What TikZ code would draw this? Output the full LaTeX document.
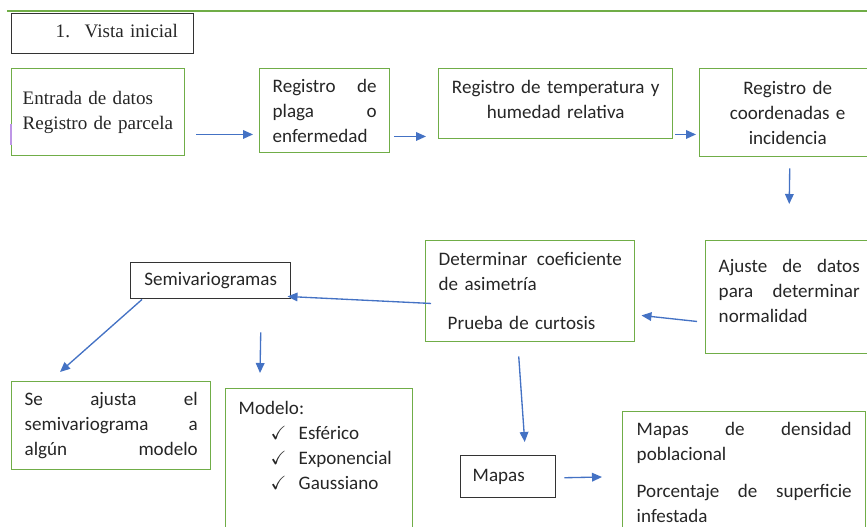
\documentclass[tikz,border=0pt]{standalone}
\usepackage{fontspec}
\usepackage{amssymb}
\setmainfont{Carlito}
\newfontfamily\romana{Liberation Serif}
\usetikzlibrary{arrows.meta, positioning, calc}

\definecolor{verde}{HTML}{70AD47}
\definecolor{azul}{HTML}{4472C4}
\definecolor{texto}{HTML}{262626}
\definecolor{violeta}{RGB}{190,150,230}

\tikzset{
    caja/.style={draw=verde, line width=1.1pt, anchor=north west, text=texto,
        inner ysep=0pt, font=\fontsize{14.3pt}{18.6pt}\selectfont},
    cajanegra/.style={caja, draw=black!80},
    flecha/.style={-{Triangle[length=7.5pt,width=6.5pt]}, azul, line width=1pt},
}

\begin{document}
\begin{tikzpicture}[x=0.75pt, y=-0.75pt]
    \useasboundingbox (0,0) rectangle (867,527);
    \draw[verde, line width=1.1pt] (7,11) -- (867,11);

    % fila de arriba
    \node[cajanegra, minimum width=136.5pt, minimum height=30pt, inner xsep=0pt,
        text width=136.5pt, align=left] (vista) at (11,13)
        {\romana\hspace*{33pt}1.\hspace{11pt}Vista inicial\\[-14pt]\mbox{}};
    \node[caja, minimum width=129.75pt, minimum height=65.25pt, inner xsep=8.25pt,
        text width=113.25pt, align=left] (entrada) at (11,68)
        {\romana Entrada de datos\\Registro de parcela};
    \draw[violeta, line width=1.2pt] (11,124) -- (11,145);
    \node[caja, minimum width=97.5pt, minimum height=63pt, inner xsep=9.75pt,
        text width=78pt, align=left] (plaga) at (259,68)
        {Registro\hfill de\\plaga\hfill o\\enfermedad};
    \node[caja, minimum width=175.5pt, minimum height=52.5pt, inner xsep=7pt,
        text width=161.5pt, align=center] (temp) at (438,68)
        {Registro de temperatura y\\humedad relativa\\[-12pt]\mbox{}};
    \node[caja, minimum width=132pt, minimum height=66pt, inner xsep=7pt,
        text width=118pt, align=center] (coord) at (699,68)
        {Registro de\\coordenadas e\\incidencia};

    % fila del medio
    \node[caja, minimum width=125.25pt, minimum height=84.75pt, inner xsep=9.75pt,
        text width=105.75pt, align=left] (ajuste) at (705,240)
        {Ajuste\hfill de\hfill datos\\para\hfill determinar\\normalidad\\[-9pt]\mbox{}};
    \node[caja, minimum width=156.75pt, minimum height=75.75pt, inner xsep=9.75pt,
        text width=137.25pt, align=left] (determinar) at (425,240)
        {Determinar\hfill coeficiente\\de asimetría\\[10.5pt]\hspace*{6.75pt}Prueba de curtosis};
    \node[cajanegra, minimum width=120pt, minimum height=27pt, align=center] (semi) at (130,262)
        {Semivariogramas};

    % fila de abajo
    \node[caja, minimum width=149.25pt, minimum height=66pt, inner xsep=9.75pt,
        text width=129.75pt, align=left] (seajusta) at (11,381)
        {Se\hfill ajusta\hfill el\\semivariograma\hfill a\\algún\hfill modelo};
    \node[caja, minimum width=140.25pt, inner xsep=9.75pt, inner ysep=9.5pt,
        text width=120.75pt, align=left] (modelo) at (225,388)
        {Modelo:\\
        \hspace*{24pt}\makebox[21pt][l]{$\checkmark$}Esférico\\
        \hspace*{24pt}\makebox[21pt][l]{$\checkmark$}Exponencial\\
        \hspace*{24pt}\makebox[21pt][l]{$\checkmark$}Gaussiano\\[40pt]\mbox{}};
    \node[cajanegra, minimum width=71.25pt, minimum height=31.5pt, inner xsep=9pt,
        text width=53.25pt, align=left] (mapas) at (460,455)
        {Mapas};
    \node[caja, minimum width=182.25pt, inner xsep=10.5pt, inner ysep=8pt,
        text width=161.25pt, align=left] (densidad) at (622,411)
        {Mapas\hfill de\hfill densidad\\poblacional\\[9.5pt]%
        Porcentaje\hfill de\hfill superficie\\infestada\\[30pt]\mbox{}};

    % flechas
    \draw[flecha] ($(entrada.south east)+(11,-22)$) -- ($(plaga.south west)+(-6,-19)$);
    \draw[flecha] ($(plaga.south east)+(4,-17)$) -- ($(temp.south west)+(-12,-3)$);
    \draw[flecha] ($(temp.south east)+(2,-5)$) -- ($(coord.south west)+(-3,-23)$);
    \draw[flecha] ($(coord.south)+(2,11)$) -- ($(ajuste.north)+(0,-36)$);
    \draw[flecha] ($(ajuste.south west)+(-8,-33)$) -- ($(determinar.south east)+(6,-27)$);
    \draw[flecha] ($(determinar.south west)+(6,-39)$) -- ($(semi.south east)+(-4,-3)$);
    \draw[flecha] ($(semi.south west)+(12,0)$) -- ($(seajusta.north west)+(49,-9)$);
    \draw[flecha] ($(semi.south)+(50,33)$) -- ($(modelo.north west)+(35,-15)$);
    \draw[flecha] ($(determinar.south)+(-11.5,14)$) -- ($(mapas.north)+(16.5,-13)$);
    \draw[flecha] ($(mapas.east)+(8,1)$) -- ($(densidad.north west)+(-20,66)$);
\end{tikzpicture}
\end{document}
